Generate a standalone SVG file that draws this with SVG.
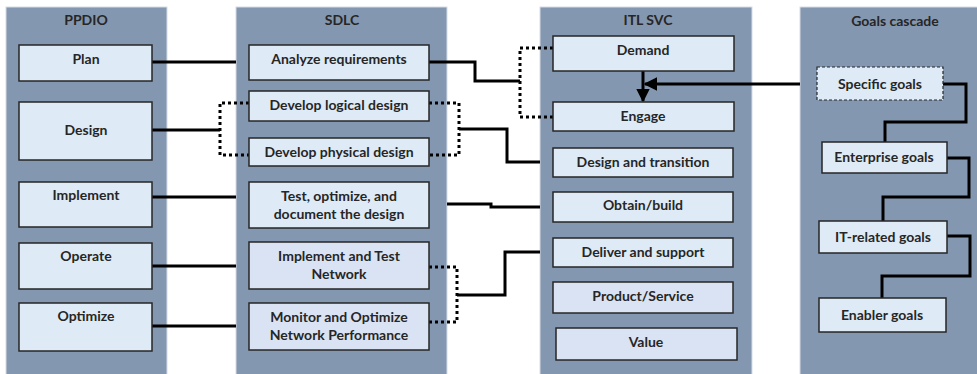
<svg xmlns="http://www.w3.org/2000/svg" width="977" height="374" viewBox="0 0 977 374">
  <style>
    .panel { fill: #8497B0; stroke: #D5DCE6; stroke-width: 1; }
    .box { fill: #DEEBF7; stroke: #262626; stroke-width: 1.5; }
    .box2 { fill: #DAE3F3; stroke: #262626; stroke-width: 1.5; }
    .dashed { fill: #DEEBF7; stroke: #262626; stroke-width: 1.2; stroke-dasharray: 3 2; }
    text { font-family: Lato, "Liberation Sans", sans-serif; font-weight: bold; font-size: 14px; fill: #262626; text-anchor: middle; }
    .wire { fill: none; stroke: #000; stroke-width: 3; }
    .dots { fill: none; stroke: #000; stroke-width: 3; stroke-dasharray: 3 3; }
  </style>
  <defs>
    <marker id="arrow" viewBox="0 0 10 10" refX="9" refY="5" markerWidth="4.5" markerHeight="4.5" orient="auto-start-reverse">
      <path d="M0,0 L10,5 L0,10 z" fill="#000"/>
    </marker>
  </defs>

  <!-- column panels -->
  <g id="panels">
    <rect class="panel" x="6" y="7" width="161" height="370"/>
    <rect class="panel" x="236" y="7" width="211" height="370"/>
    <rect class="panel" x="540" y="7" width="212" height="370"/>
    <rect class="panel" x="800" y="7" width="180" height="370"/>
    <text x="86" y="25">PPDIO</text>
    <text x="342" y="25">SDLC</text>
    <text x="648" y="25">ITL SVC</text>
    <text x="895" y="26">Goals cascade</text>
  </g>

  <!-- connectors -->
  <g id="connectors">
    <!-- PPDIO to SDLC -->
    <path class="wire" d="M152,62 H236"/>
    <path class="wire" d="M152,130 H220"/>
    <path class="wire" d="M152,197 H236"/>
    <path class="wire" d="M152,266 H236"/>
    <path class="wire" d="M152,326 H236"/>
    <!-- design bracket (left) -->
    <path class="dots" d="M249,103 H220 V155 H249"/>
    <!-- design bracket (right) -->
    <path class="dots" d="M429,103 H459 V155 H429"/>
    <!-- SDLC to ITL -->
    <path class="wire" d="M429,62 H475 V81 H520"/>
    <path class="dots" d="M553,48 H520 V117 H553"/>
    <path class="wire" d="M459,129 H507 V162 H540"/>
    <path class="wire" d="M447,204 H491 V207 H540"/>
    <path class="dots" d="M429,267 H457 V322 H429"/>
    <path class="wire" d="M457,295 H505 V252 H540"/>
    <!-- inside ITL -->
    <path class="wire" d="M643,71 V101" marker-end="url(#arrow)" stroke-width="2.5"/>
    <path class="wire" d="M800,84 H645" marker-end="url(#arrow)" stroke-width="2.5"/>
    <!-- goals cascade -->
    <path class="wire" d="M943,84 H966 V122 H885 V142"/>
    <path class="wire" d="M947,158 H969 V197 H883 V221"/>
    <path class="wire" d="M947,236 H970 V276 H882 V298"/>
  </g>

  <!-- PPDIO nodes -->
  <g id="plan"><rect class="box" x="19" y="45" width="133" height="36"/><text x="86" y="64">Plan</text></g>
  <g id="design"><rect class="box" x="19" y="102" width="133" height="58"/><text x="86" y="135">Design</text></g>
  <g id="implement"><rect class="box" x="19" y="182" width="133" height="45"/><text x="86" y="200">Implement</text></g>
  <g id="operate"><rect class="box" x="19" y="243" width="133" height="46"/><text x="86" y="261">Operate</text></g>
  <g id="optimize"><rect class="box" x="19" y="303" width="133" height="48"/><text x="86" y="321">Optimize</text></g>

  <!-- SDLC nodes -->
  <g id="analyze"><rect class="box" x="249" y="45" width="180" height="35"/><text x="339" y="64">Analyze requirements</text></g>
  <g id="logical"><rect class="box" x="249" y="91" width="180" height="30"/><text x="339" y="110">Develop logical design</text></g>
  <g id="physical"><rect class="box" x="249" y="138" width="180" height="28"/><text x="339" y="157">Develop physical design</text></g>
  <g id="test"><rect class="box" x="249" y="182" width="180" height="46"/><text x="339" y="201">Test, optimize, and</text><text x="339" y="219">document the design</text></g>
  <g id="impl-net"><rect class="box2" x="249" y="242" width="180" height="47"/><text x="339" y="261">Implement and Test</text><text x="339" y="279">Network</text></g>
  <g id="monitor"><rect class="box2" x="249" y="303" width="180" height="47"/><text x="339" y="322">Monitor and Optimize</text><text x="339" y="340">Network Performance</text></g>

  <!-- ITL SVC nodes -->
  <g id="demand"><rect class="box" x="553" y="36" width="181" height="35"/><text x="643" y="55">Demand</text></g>
  <g id="engage"><rect class="box" x="553" y="102" width="181" height="29"/><text x="643" y="121">Engage</text></g>
  <g id="design-transition"><rect class="box" x="553" y="148" width="180" height="29"/><text x="643" y="167">Design and transition</text></g>
  <g id="obtain"><rect class="box" x="553" y="192" width="180" height="30"/><text x="643" y="210">Obtain/build</text></g>
  <g id="deliver"><rect class="box" x="553" y="238" width="180" height="29"/><text x="643" y="257">Deliver and support</text></g>
  <g id="product"><rect class="box2" x="553" y="282" width="180" height="31"/><text x="643" y="301">Product/Service</text></g>
  <g id="value"><rect class="box2" x="556" y="328" width="181" height="32"/><text x="646" y="347">Value</text></g>

  <!-- goals cascade nodes -->
  <g id="specific"><rect class="dashed" x="817" y="67" width="126" height="33"/><text x="880" y="89">Specific goals</text></g>
  <g id="enterprise"><rect class="box" x="822" y="142" width="125" height="31"/><text x="884" y="162">Enterprise goals</text></g>
  <g id="it-related"><rect class="box" x="819" y="221" width="128" height="32"/><text x="883" y="242">IT-related goals</text></g>
  <g id="enabler"><rect class="box" x="819" y="298" width="127" height="34"/><text x="882" y="320">Enabler goals</text></g>
</svg>
